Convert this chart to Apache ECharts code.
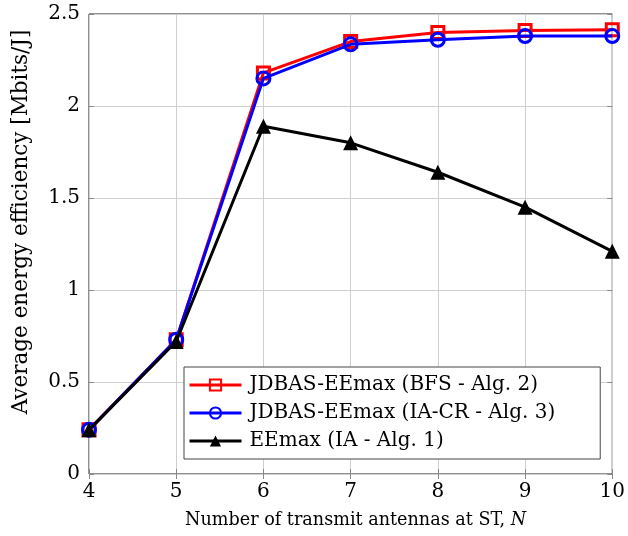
<!DOCTYPE html>
<html><head><meta charset="utf-8">
<script src="https://cdn.jsdelivr.net/npm/echarts@6/dist/echarts.min.js"></script>
<style>html,body{margin:0;padding:0;background:#fff}#c{width:628px;height:536px}</style>
</head><body><div id="c"></div>
<script>
const categories = [4, 5, 6, 7, 8, 9, 10];
const bfs = [0.24, 0.73, 2.18, 2.35, 2.40, 2.41, 2.415];
const iacr = [0.24, 0.73, 2.15, 2.335, 2.36, 2.38, 2.38];
const ia = [0.24, 0.72, 1.89, 1.80, 1.64, 1.45, 1.21];
const names = ['JDBAS-EEmax (BFS - Alg. 2)', 'JDBAS-EEmax (IA-CR - Alg. 3)', 'EEmax (IA - Alg. 1)'];

const FONT = 'DejaVu Serif';
const FS = 20;
const chart = echarts.init(document.getElementById('c'));
const pair = (arr) => categories.map((x, i) => [x, arr[i]]);
const tick = {show: true, inside: true, length: 5, lineStyle: {color: '#888', width: 1}};
const grid = {show: true, lineStyle: {color: '#cfcfcf', width: 1}};
chart.setOption({
  animation: false,
  backgroundColor: '#fff',
  grid: {left: 89, right: 12, top: 14, bottom: 62, show: true, borderColor: '#222', borderWidth: 1},
  xAxis: [{
    type: 'value', min: 4, max: 10, interval: 1,
    axisLine: {show: false}, axisTick: tick, splitLine: grid,
    axisLabel: {color: '#000', fontFamily: FONT, fontSize: FS, margin: 8},
    name: 'Number of transmit antennas at ST, {i|N}', nameLocation: 'middle', nameGap: 37,
    nameTextStyle: {color: '#000', fontFamily: FONT, fontSize: 17.6, padding: [0, 0, 0, 10],
      rich: {i: {fontStyle: 'italic', fontFamily: FONT, fontSize: 17.6, color: '#000'}}}
  }, {
    type: 'value', min: 4, max: 10, interval: 1, position: 'top',
    axisLine: {show: false}, axisTick: tick, splitLine: {show: false}, axisLabel: {show: false}
  }],
  yAxis: [{
    type: 'value', min: 0, max: 2.5, interval: 0.5,
    axisLine: {show: false}, axisTick: tick, splitLine: grid,
    axisLabel: {color: '#000', fontFamily: FONT, fontSize: FS, margin: 9},
    name: 'Average energy efficiency [Mbits/J]', nameLocation: 'middle', nameGap: 57,
    nameTextStyle: {color: '#000', fontFamily: FONT, fontSize: 21.5, padding: [0, 0, 0, 44]}
  }, {
    type: 'value', min: 0, max: 2.5, interval: 0.5, position: 'right',
    axisLine: {show: false}, axisTick: tick, splitLine: {show: false}, axisLabel: {show: false}
  }],
  legend: {
    orient: 'vertical', left: 184, top: 367,
    backgroundColor: '#fff', borderColor: '#444', borderWidth: 1,
    padding: [8, 45, 8, 4], itemGap: 8, itemWidth: 52, itemHeight: 14,
    lineStyle: {width: 3},
    textStyle: {color: '#000', fontFamily: FONT, fontSize: FS, padding: [0, 0, 0, 3]},
    data: names
  },
  series: [
    {name: names[0], type: 'line', data: pair(bfs), symbol: 'rect', symbolSize: 12,
     lineStyle: {color: '#ff0000', width: 3}, itemStyle: {color: 'rgba(255,255,255,0)', borderColor: '#ff0000', borderWidth: 3}, z: 2},
    {name: names[1], type: 'line', data: pair(iacr), symbol: 'circle', symbolSize: 13,
     lineStyle: {color: '#0000ff', width: 3}, itemStyle: {color: 'rgba(255,255,255,0)', borderColor: '#0000ff', borderWidth: 3}, z: 3},
    {name: names[2], type: 'line', data: pair(ia), symbol: 'triangle', symbolSize: 15,
     lineStyle: {color: '#000', width: 3}, itemStyle: {color: '#000', borderColor: '#000', borderWidth: 0}, z: 4}
  ]
});
</script></body></html>
